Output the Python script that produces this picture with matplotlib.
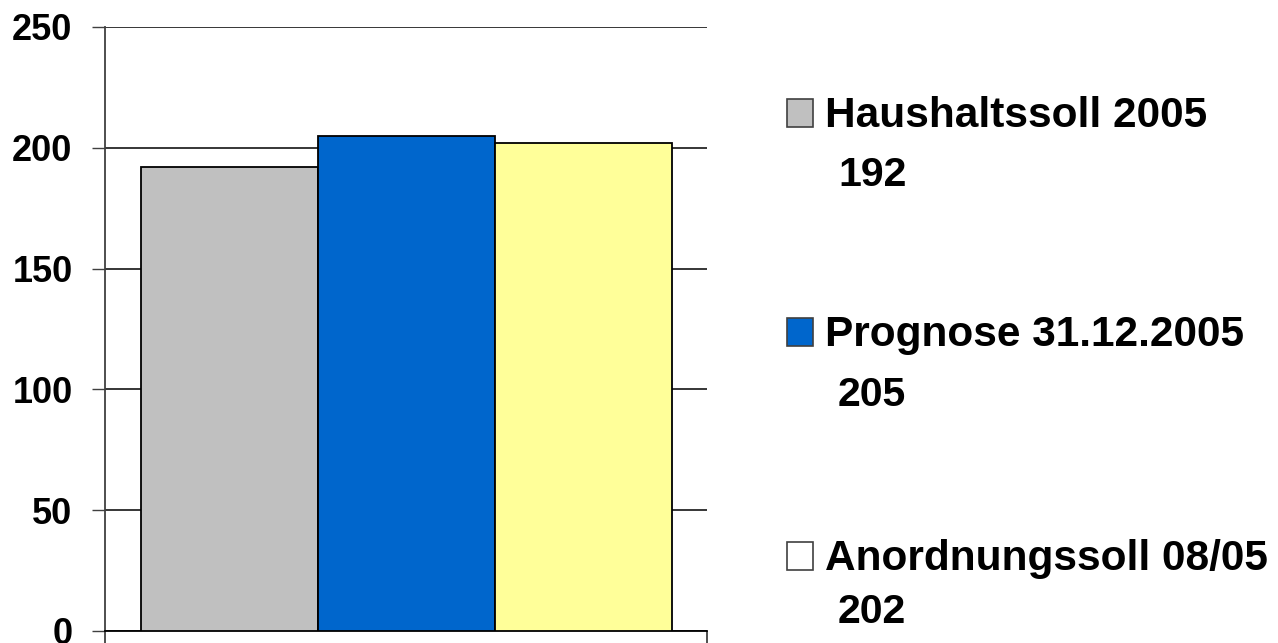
import matplotlib
matplotlib.use("Agg")
import matplotlib.pyplot as plt
from matplotlib.patches import Rectangle

series = ["Haushaltssoll 2005", "Prognose 31.12.2005", "Anordnungssoll 08/05"]
values = [192, 205, 202]
bar_colors = ["#C0C0C0", "#0066CC", "#FFFF99"]
legend_colors = ["#C0C0C0", "#0066CC", "#FFFFFF"]
yticks = [0, 50, 100, 150, 200, 250]

plt.rcParams['font.family'] = ['Liberation Sans', 'DejaVu Sans']
plt.rcParams['font.weight'] = 'bold'

W, H = 1278, 643
fig = plt.figure(figsize=(W/100, H/100), dpi=100)
ax = fig.add_axes([105/W, 1-631/H, (707-105)/W, (631-27)/H])

w = 177/602
offsets = [-w, 0, w]
for off, v, c in zip(offsets, values, bar_colors):
    ax.bar(off, v, width=w, color=c, edgecolor='black', linewidth=1.3, zorder=3)

ax.set_xlim(-0.5, 0.5)
ax.set_ylim(0, 250)
ax.set_yticks(yticks)
ax.set_yticklabels([str(t) for t in yticks], fontsize=26, fontweight='bold')
ax.set_xticks([-0.5, 0.5])
ax.set_xticklabels([])
ax.tick_params(axis='y', direction='out', length=9.4, width=1, color='#404040', pad=14)
ax.tick_params(axis='x', direction='out', length=8.6, width=1.3, color='#404040')
ax.yaxis.grid(True, color='black', linewidth=1.1, zorder=0)
ax.set_axisbelow(True)
for s in ['top', 'right']:
    ax.spines[s].set_visible(False)
ax.spines['left'].set_color('#404040')
ax.spines['left'].set_linewidth(1.3)
ax.spines['bottom'].set_color('black')
ax.spines['bottom'].set_linewidth(1.3)

# legend (manual)
label_base = [127, 346, 570]
value_base = [186, 406, 623]
for lab, v, lc, lb, vb in zip(series, values, legend_colors, label_base, value_base):
    fig.patches.append(Rectangle((787/W, 1-lb/H), 26/W, 28/H, transform=fig.transFigure,
                                 facecolor=lc, edgecolor='#404040', linewidth=1.2))
    fig.text(825/W, 1-lb/H, lab, fontsize=30.5, fontweight='bold', va='baseline', ha='left')
    fig.text(838/W, 1-vb/H, str(v), fontsize=29.5, fontweight='bold', va='baseline', ha='left')

fig.savefig("out.png", dpi=100)
